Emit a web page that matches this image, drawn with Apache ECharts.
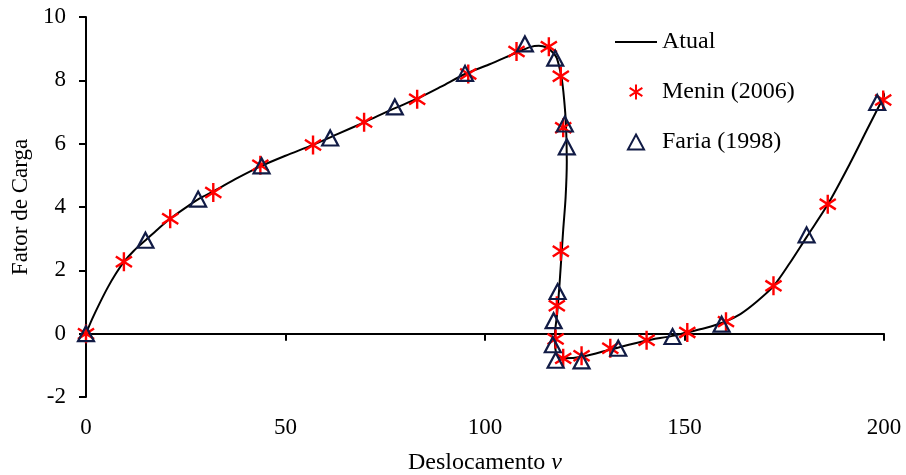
<!DOCTYPE html>
<html>
<head>
<meta charset="utf-8">
<script src="https://cdn.jsdelivr.net/npm/echarts@6/dist/echarts.min.js"></script>
<style>
html,body{margin:0;padding:0;background:#fff;}
#chart{width:906px;height:475px;}
</style>
</head>
<body>
<div id="chart"></div>
<script>
// ---- Data ----
const xTicks = [0, 50, 100, 150, 200];
const yTicks = [-2, 0, 2, 4, 6, 8, 10];

const seriesNames = ['Atual', 'Menin (2006)', 'Faria (1998)'];

// Atual (continuous curve)
const atualX = [0, 1.5, 3.5, 5.5, 7.5, 9.5, 12, 15, 18, 21, 25, 28.5, 32, 38, 44, 50, 57, 63, 70, 77, 83, 89, 95, 101, 108, 111.3, 113.5, 115.5, 117, 118, 119.2, 119.8, 120.3, 120.5, 120.2, 119.6, 118.7, 118.1, 117.5, 117.6, 118, 119.6, 124.6, 131.5, 140, 147, 151, 155, 160, 164, 168, 172.3, 176.4, 180.6, 186, 191.5, 195.7, 200.5];
const atualY = [0, 0.45, 0.98, 1.47, 1.9, 2.27, 2.62, 2.96, 3.3, 3.62, 3.98, 4.27, 4.5, 4.92, 5.3, 5.62, 5.97, 6.3, 6.69, 7.1, 7.42, 7.8, 8.2, 8.5, 8.88, 9.05, 9.09, 9.03, 8.88, 8.7, 8.07, 7.44, 6.59, 5.44, 4.3, 3.28, 1.6, 0.65, -0.08, -0.45, -0.65, -0.78, -0.72, -0.5, -0.23, -0.07, 0.05, 0.17, 0.37, 0.62, 1.0, 1.5, 2.23, 3.05, 4.1, 5.38, 6.43, 7.62];

// Menin (2006) - red asterisks
const meninX = [0, 9.5, 21.1, 31.9, 43.7, 56.9, 69.7, 83.0, 95.8, 107.9, 116.0, 119.0, 119.6, 119.0, 118.0, 117.7, 119.6, 124.2, 131.4, 140.5, 150.7, 160.4, 172.3, 185.9, 199.8];
const meninY = [0, 2.27, 3.63, 4.46, 5.32, 5.96, 6.68, 7.40, 8.20, 8.91, 9.06, 8.13, 6.50, 2.60, 0.88, -0.17, -0.78, -0.70, -0.46, -0.21, 0.04, 0.38, 1.51, 4.09, 7.38];

// Faria (1998) - navy triangles
const fariaX = [0, 14.9, 28.1, 44.0, 61.2, 77.4, 95.0, 110.0, 117.6, 120.0, 120.5, 118.2, 117.2, 117.0, 117.7, 124.2, 133.4, 147.0, 159.3, 180.6, 198.3];
const fariaY = [0, 2.95, 4.25, 5.30, 6.18, 7.16, 8.22, 9.15, 8.70, 6.62, 5.90, 1.33, 0.41, -0.35, -0.84, -0.86, -0.46, -0.09, 0.30, 3.12, 7.30];

// ---- Build ----
const zip = (xs, ys) => xs.map((x, i) => [x, ys[i]]);
const FONT = 'Liberation Serif';
const asterisk = 'path://M10 0 L10 20 M1.5 4.5 L18.5 15.5 M1.5 15.5 L18.5 4.5';
const triangle = 'path://M7.5 0 L15 14 L0 14 Z';
const lineIcon = 'path://M0 0 L42 0 L42 2 L0 2 Z';

const xBase = {
  type: 'value',
  min: xTicks[0],
  max: xTicks[xTicks.length - 1],
  interval: xTicks[1] - xTicks[0],
  splitLine: {show: false}
};

const chart = echarts.init(document.getElementById('chart'), null, {renderer: 'canvas'});
chart.setOption({
  animation: false,
  backgroundColor: '#ffffff',
  grid: {left: 86, right: 22, top: 17, bottom: 78, containLabel: false, outerBoundsMode: 'none'},
  legend: {
    data: [
      {name: seriesNames[0], icon: lineIcon, itemStyle: {color: '#000', borderWidth: 0}},
      {name: seriesNames[1]},
      {name: seriesNames[2]}
    ],
    orient: 'vertical',
    left: 610,
    top: 25,
    itemWidth: 42,
    itemHeight: 15,
    itemGap: 26,
    symbolKeepAspect: true,
    textStyle: {fontFamily: FONT, fontSize: 24, color: '#000', lineHeight: 24}
  },
  xAxis: [
    Object.assign({}, xBase, {
      position: 'bottom',
      axisLine: {show: false, onZero: false},
      axisTick: {show: false},
      axisLabel: {margin: 19, fontFamily: FONT, fontSize: 23, color: '#000'},
      name: 'Deslocamento {i|v}',
      nameLocation: 'middle',
      nameGap: 54,
      nameTextStyle: {
        fontFamily: FONT, fontSize: 24, color: '#000',
        rich: {i: {fontFamily: FONT, fontSize: 24, fontStyle: 'italic', color: '#000'}}
      }
    }),
    Object.assign({}, xBase, {
      position: 'bottom',
      axisLine: {show: true, onZero: true, lineStyle: {color: '#000', width: 2}},
      axisTick: {show: true, length: 7, lineStyle: {color: '#000', width: 2}},
      axisLabel: {show: false}
    })
  ],
  yAxis: {
    type: 'value',
    min: yTicks[0],
    max: yTicks[yTicks.length - 1],
    interval: yTicks[1] - yTicks[0],
    splitLine: {show: false},
    axisLine: {show: true, onZero: false, lineStyle: {color: '#000', width: 2}},
    axisTick: {show: true, length: 7, lineStyle: {color: '#000', width: 2}},
    axisLabel: {margin: 20, fontFamily: FONT, fontSize: 23, color: '#000'},
    name: 'Fator de Carga',
    nameLocation: 'middle',
    nameGap: 42,
    nameTextStyle: {fontFamily: FONT, fontSize: 23, color: '#000'}
  },
  series: [
    {
      name: seriesNames[0],
      type: 'line',
      data: zip(atualX, atualY),
      showSymbol: false,
      symbol: 'none',
      smooth: 0.3,
      clip: false,
      lineStyle: {color: '#000', width: 2},
      itemStyle: {color: '#000'},
      z: 1
    },
    {
      name: seriesNames[1],
      type: 'scatter',
      data: zip(meninX, meninY),
      symbol: asterisk,
      symbolSize: 19,
      symbolKeepAspect: true,
      itemStyle: {color: 'rgba(0,0,0,0)', borderColor: '#ff0000', borderWidth: 2.4, opacity: 1},
      z: 2
    },
    {
      name: seriesNames[2],
      type: 'scatter',
      data: zip(fariaX, fariaY),
      symbol: triangle,
      symbolSize: [16, 15],
      itemStyle: {color: 'rgba(0,0,0,0)', borderColor: '#111b45', borderWidth: 2.2, opacity: 1},
      z: 3
    }
  ]
});
</script>
</body>
</html>
